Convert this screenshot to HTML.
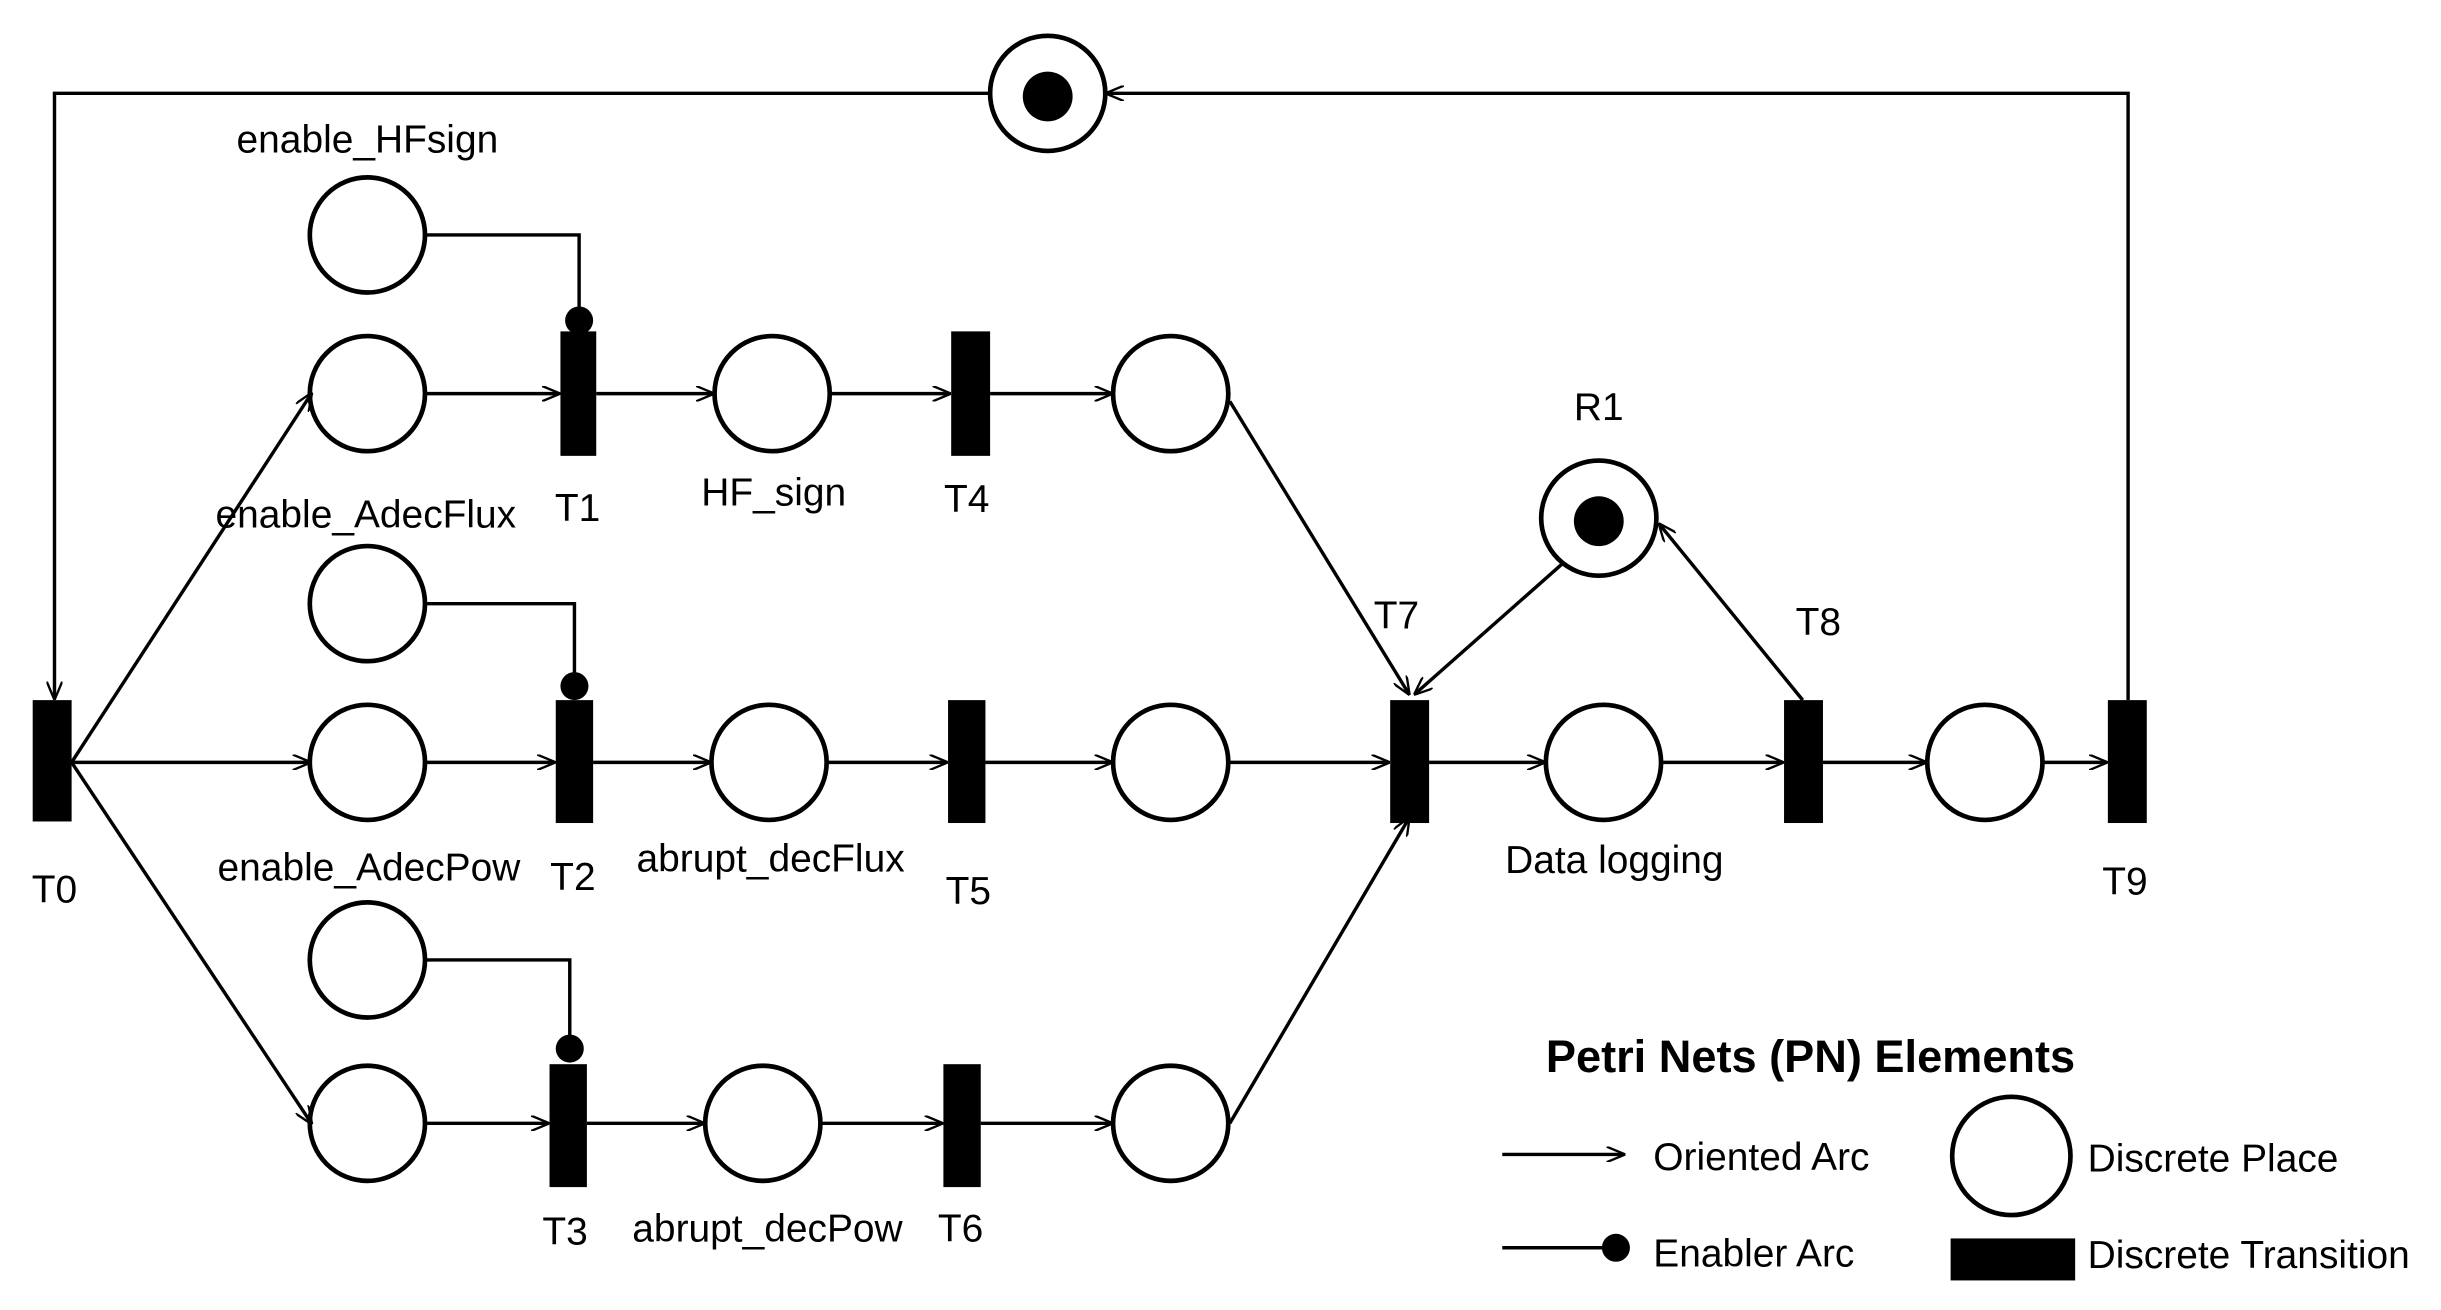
<!DOCTYPE html>
<html><head><meta charset="utf-8"><style>
html,body{margin:0;padding:0;background:#fff}
svg{display:block}
text{font-family:"Liberation Sans",sans-serif;font-size:25px;fill:#000}
</style></head><body>
<svg width="2441" height="1310" viewBox="0 0 1568 842" preserveAspectRatio="none" xmlns="http://www.w3.org/2000/svg">
<defs>
<marker id="a" viewBox="0 0 12 10" refX="11" refY="5" markerWidth="12" markerHeight="10" markerUnits="userSpaceOnUse" orient="auto">
<path d="M0,0 L12,5 L0,10" fill="none" stroke="#000" stroke-width="1.5"/>
</marker>
</defs>
<g fill="none" stroke="#000" stroke-width="2.2">
<polyline points="636,60 35,60 35,449" marker-end="url(#a)"/>
<polyline points="1367,450 1367,60 711,60" marker-end="url(#a)"/>
<line x1="46" y1="490" x2="200" y2="253" marker-end="url(#a)"/>
<line x1="46" y1="490" x2="199" y2="490" marker-end="url(#a)"/>
<line x1="46" y1="490" x2="200" y2="722" marker-end="url(#a)"/>
<line x1="273" y1="253" x2="359" y2="253" marker-end="url(#a)"/>
<line x1="383" y1="253" x2="458" y2="253" marker-end="url(#a)"/>
<line x1="533" y1="253" x2="610" y2="253" marker-end="url(#a)"/>
<line x1="636" y1="253" x2="714" y2="253" marker-end="url(#a)"/>
<polyline points="273,151 372,151 372,198"/>
<line x1="273" y1="490" x2="356" y2="490" marker-end="url(#a)"/>
<line x1="381" y1="490" x2="456" y2="490" marker-end="url(#a)"/>
<line x1="531" y1="490" x2="608" y2="490" marker-end="url(#a)"/>
<line x1="633" y1="490" x2="714" y2="490" marker-end="url(#a)"/>
<polyline points="273,388 369,388 369,433"/>
<line x1="273" y1="722" x2="352" y2="722" marker-end="url(#a)"/>
<line x1="377" y1="722" x2="452" y2="722" marker-end="url(#a)"/>
<line x1="527" y1="722" x2="605" y2="722" marker-end="url(#a)"/>
<line x1="630" y1="722" x2="714" y2="722" marker-end="url(#a)"/>
<polyline points="273,617 366,617 366,666"/>
<line x1="790" y1="258" x2="905" y2="446" marker-end="url(#a)"/>
<line x1="790" y1="490" x2="892" y2="490" marker-end="url(#a)"/>
<line x1="790" y1="722" x2="905" y2="526" marker-end="url(#a)"/>
<line x1="1004" y1="362" x2="909" y2="446" marker-end="url(#a)"/>
<line x1="918" y1="490" x2="992" y2="490" marker-end="url(#a)"/>
<line x1="1068" y1="490" x2="1145" y2="490" marker-end="url(#a)"/>
<line x1="1158" y1="450" x2="1066" y2="337" marker-end="url(#a)"/>
<line x1="1171" y1="490" x2="1237" y2="490" marker-end="url(#a)"/>
<line x1="1313" y1="490" x2="1353" y2="490" marker-end="url(#a)"/>
<g stroke-width="3">
<circle cx="673" cy="60" r="37"/>
<circle cx="236" cy="151" r="37"/>
<circle cx="236" cy="253" r="37"/>
<circle cx="236" cy="388" r="37"/>
<circle cx="236" cy="490" r="37"/>
<circle cx="236" cy="617" r="37"/>
<circle cx="236" cy="722" r="37"/>
<circle cx="496" cy="253" r="37"/>
<circle cx="752" cy="253" r="37"/>
<circle cx="494" cy="490" r="37"/>
<circle cx="752" cy="490" r="37"/>
<circle cx="490" cy="722" r="37"/>
<circle cx="752" cy="722" r="37"/>
<circle cx="1027" cy="333" r="37"/>
<circle cx="1030" cy="490" r="37"/>
<circle cx="1275" cy="490" r="37"/>
<circle cx="1292" cy="743" r="38"/>
</g>
<line x1="965" y1="742" x2="1043" y2="742" marker-end="url(#a)"/>
<line x1="965" y1="802" x2="1030" y2="802"/>
</g>
<g fill="#000">
<circle cx="673" cy="62" r="16"/>
<circle cx="1027" cy="335" r="16"/>
<circle cx="372" cy="206" r="9"/>
<circle cx="369" cy="441" r="9"/>
<circle cx="366" cy="674" r="9"/>
<circle cx="1038" cy="802" r="9"/>
<rect x="21" y="450" width="25" height="78"/>
<rect x="360" y="213" width="23" height="80"/>
<rect x="611" y="213" width="25" height="80"/>
<rect x="357" y="450" width="24" height="79"/>
<rect x="609" y="450" width="24" height="79"/>
<rect x="353" y="684" width="24" height="79"/>
<rect x="606" y="684" width="24" height="79"/>
<rect x="893" y="450" width="25" height="79"/>
<rect x="1146" y="450" width="25" height="79"/>
<rect x="1354" y="450" width="25" height="79"/>
<rect x="1253" y="796" width="80" height="27"/>
</g>
<g text-anchor="middle">
<text x="236" y="98">enable_HFsign</text>
<text x="235" y="339">enable_AdecFlux</text>
<text x="371" y="335">T1</text>
<text x="497" y="325">HF_sign</text>
<text x="621" y="329">T4</text>
<text x="35" y="580">T0</text>
<text x="237" y="566">enable_AdecPow</text>
<text x="368" y="572">T2</text>
<text x="495" y="560">abrupt_decFlux</text>
<text x="622" y="581">T5</text>
<text x="363" y="800">T3</text>
<text x="493" y="798">abrupt_decPow</text>
<text x="617" y="798">T6</text>
<text x="897" y="404">T7</text>
<text x="1027" y="270">R1</text>
<text x="1168" y="408">T8</text>
<text x="1037" y="561">Data logging</text>
<text x="1365" y="575">T9</text>
<text x="1163" y="689" style="font-weight:bold;font-size:29px">Petri Nets (PN) Elements</text>
</g>
<text x="1062" y="752">Oriented Arc</text>
<text x="1062" y="814">Enabler Arc</text>
<text x="1341" y="753">Discrete Place</text>
<text x="1341" y="815">Discrete Transition</text>
</svg>
</body></html>
